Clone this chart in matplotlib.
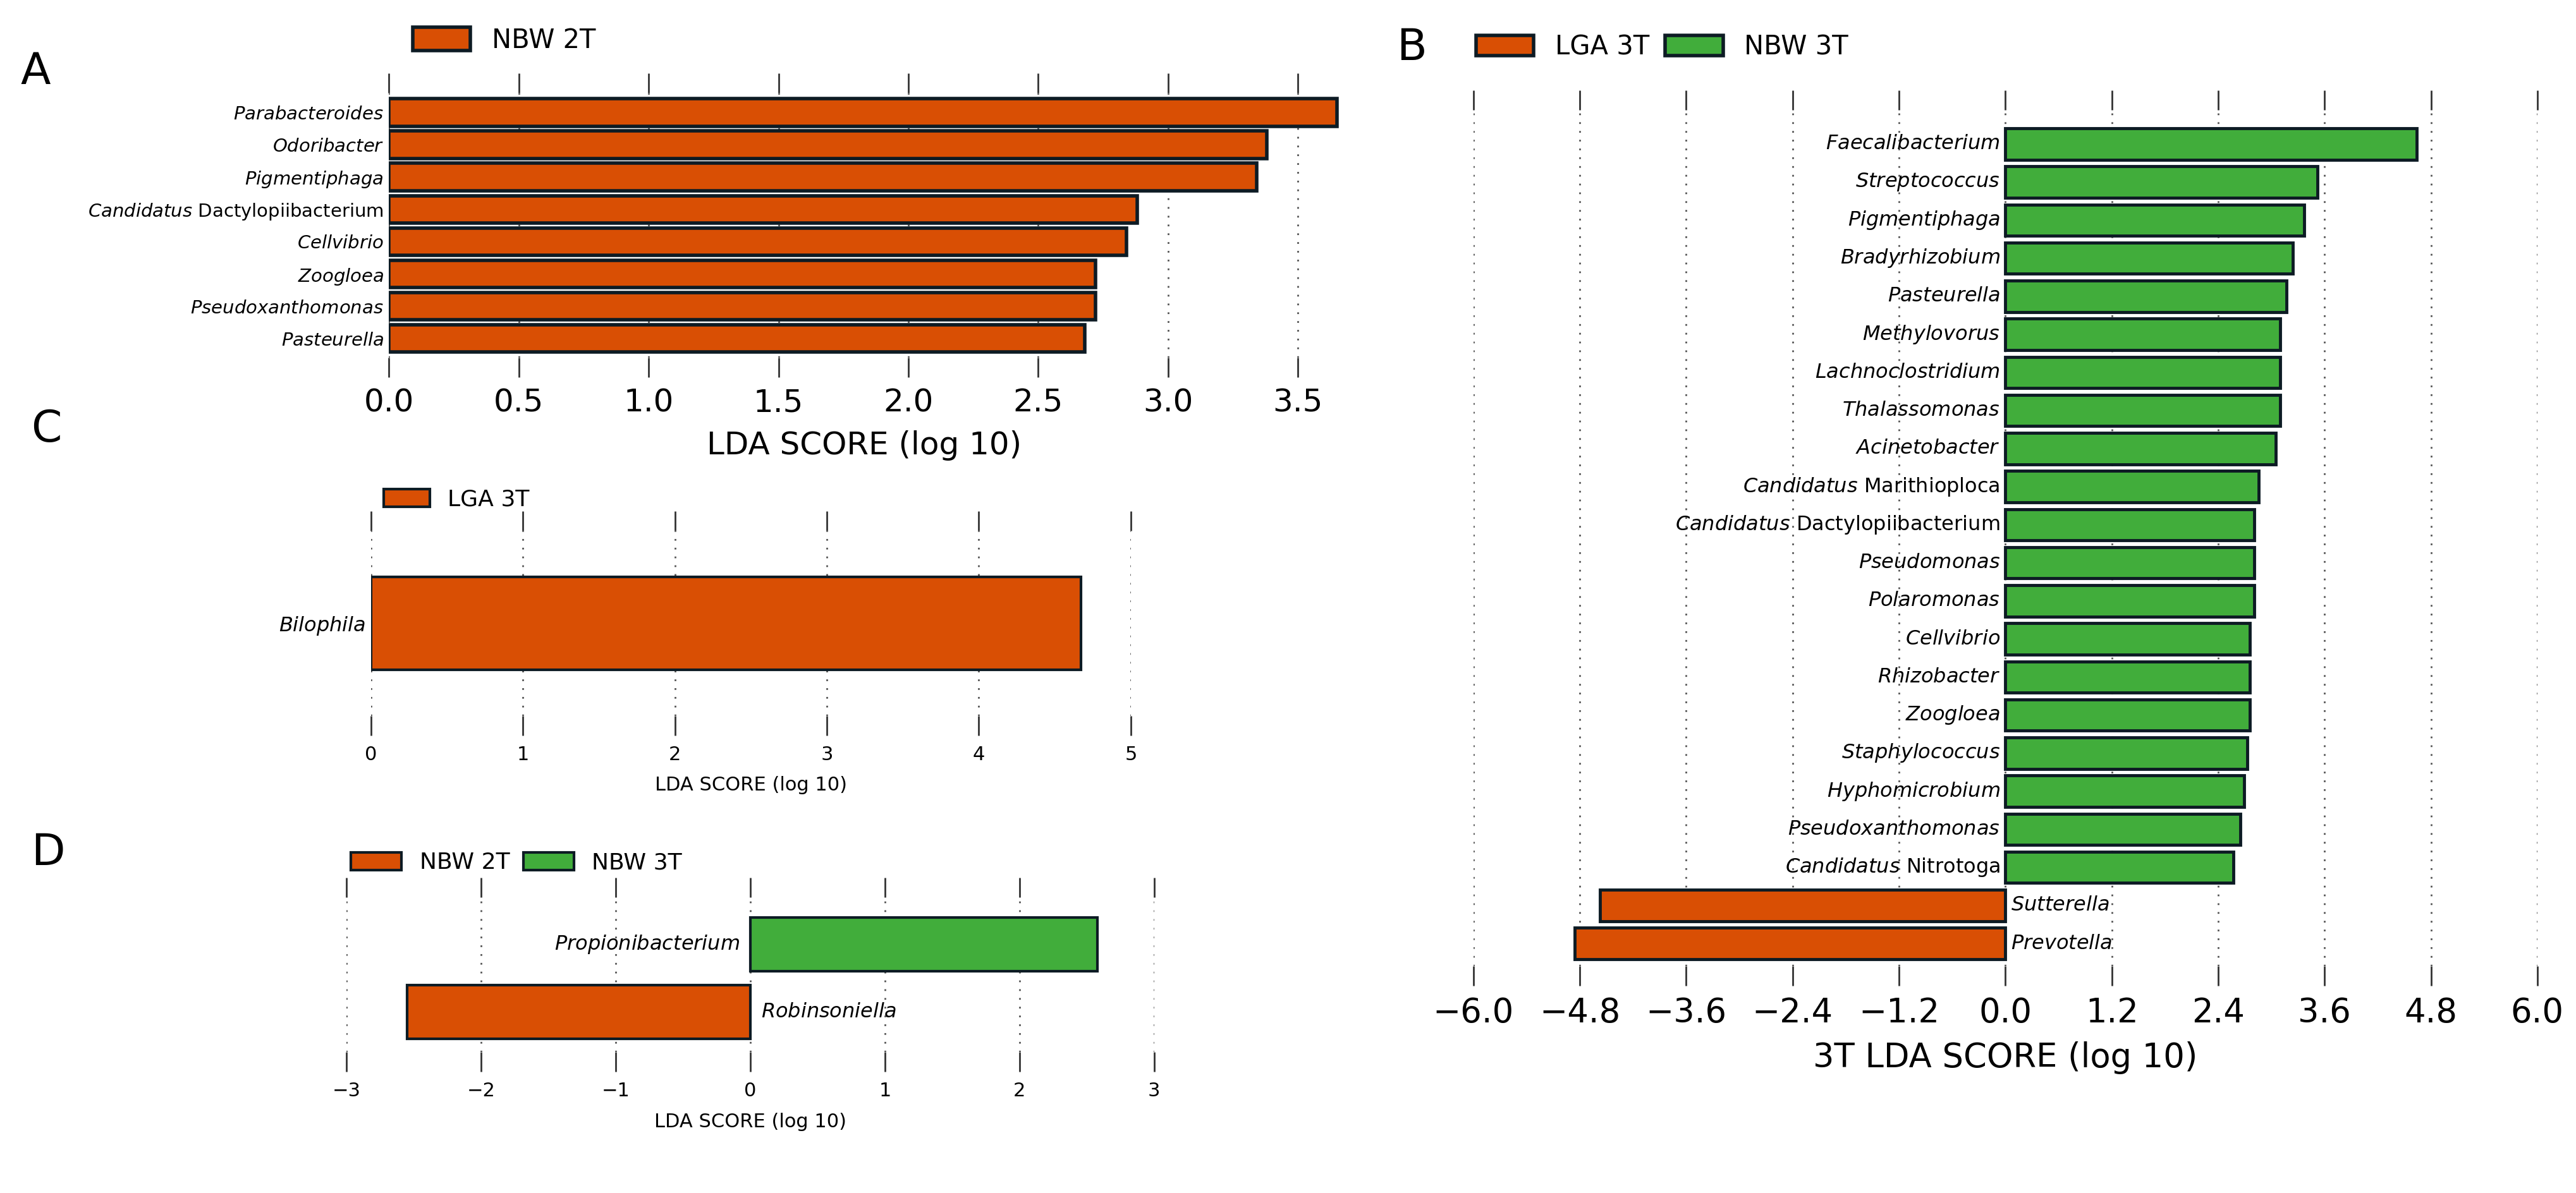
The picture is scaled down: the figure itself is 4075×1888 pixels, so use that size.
import numpy as np
import matplotlib.pyplot as plt
from matplotlib.patches import Patch

plt.rcParams['font.family'] = ['DejaVu Sans']
plt.rcParams['mathtext.fontset'] = 'custom'
plt.rcParams['mathtext.it'] = 'DejaVu Sans:italic'
plt.rcParams['mathtext.rm'] = 'DejaVu Sans'

ORANGE = '#d94f04'
GREEN = '#41ad3b'
EDGE = '#0d1b24'

# panel A
a_names = ['Parabacteroides', 'Odoribacter', 'Pigmentiphaga', r'$\it{Candidatus}$ Dactylopiibacterium',
           'Cellvibrio', 'Zoogloea', 'Pseudoxanthomonas', 'Pasteurella']
a_vals = [3.65, 3.38, 3.34, 2.88, 2.84, 2.72, 2.72, 2.68]

# panel B
b_names = ['Faecalibacterium', 'Streptococcus', 'Pigmentiphaga', 'Bradyrhizobium', 'Pasteurella',
           'Methylovorus', 'Lachnoclostridium', 'Thalassomonas', 'Acinetobacter',
           r'$\it{Candidatus}$ Marithioploca', r'$\it{Candidatus}$ Dactylopiibacterium',
           'Pseudomonas', 'Polaromonas', 'Cellvibrio', 'Rhizobacter', 'Zoogloea',
           'Staphylococcus', 'Hyphomicrobium', 'Pseudoxanthomonas', r'$\it{Candidatus}$ Nitrotoga',
           'Sutterella', 'Prevotella']
b_vals = [4.64, 3.52, 3.37, 3.24, 3.17, 3.10, 3.10, 3.10, 3.05, 2.86, 2.81, 2.81, 2.81,
          2.76, 2.76, 2.76, 2.73, 2.69, 2.65, 2.57, -4.57, -4.86]

# panel C
c_names = ['Bilophila']
c_vals = [4.67]

# panel D
d_names = ['Propionibacterium', 'Robinsoniella']
d_vals = [2.58, -2.55]

fig = plt.figure(figsize=(40.75, 18.88), dpi=100)


def style(ax, xlim, ticks, tickfs, labfs, xlabel):
    ax.set_xlim(*xlim)
    ax.set_xticks(ticks)
    for t in ticks:
        ax.axvline(t, color='#555555', ls=(0, (1, 4)), lw=2, zorder=0)
    for s in ax.spines.values():
        s.set_visible(False)
    ax.tick_params(axis='x', top=True, bottom=True, length=22, width=2, color='#333333',
                   labelsize=tickfs, direction='out', pad=12)
    ax.tick_params(axis='y', length=0, pad=6)
    ax.set_xlabel(xlabel, fontsize=labfs, labelpad=14)


def names_italic(n):
    return n if n.startswith('$') else r'$\it{' + n + '}$'


# A
axA = fig.add_axes([0.151, 0.70, 0.369, 0.222])
y = np.arange(len(a_vals))[::-1]
axA.barh(y, a_vals, height=0.85, color=ORANGE, edgecolor=EDGE, lw=4)
axA.set_yticks(y)
axA.set_yticklabels([names_italic(n) for n in a_names], fontsize=21)
axA.set_ylim(-0.6, len(a_vals) - 0.4)
style(axA, (0, 3.66), np.arange(0, 3.6, 0.5), 36, 36, 'LDA SCORE (log 10)')
axA.legend(handles=[Patch(facecolor=ORANGE, edgecolor=EDGE, lw=4, label='NBW 2T')],
           loc='lower left', bbox_to_anchor=(0.0, 1.06), frameon=False, fontsize=30,
           handlelength=2.2, handleheight=1.0)

# C
axC = fig.add_axes([0.144, 0.40, 0.295, 0.155])
axC.barh([0], c_vals, height=0.5, color=ORANGE, edgecolor=EDGE, lw=3)
axC.set_yticks([0])
axC.set_yticklabels([names_italic(n) for n in c_names], fontsize=23)
axC.set_ylim(-0.5, 0.5)
style(axC, (0, 5.0), np.arange(0, 6, 1), 22, 22, 'LDA SCORE (log 10)')
axC.legend(handles=[Patch(facecolor=ORANGE, edgecolor=EDGE, lw=3, label='LGA 3T')],
           loc='lower left', bbox_to_anchor=(-0.01, 1.0), frameon=False, fontsize=26,
           handlelength=2.0, handleheight=0.8)

# D
axD = fig.add_axes([0.1346, 0.118, 0.3134, 0.13])
yd = np.arange(len(d_vals))[::-1]
colsD = [GREEN if v > 0 else ORANGE for v in d_vals]
axD.barh(yd, d_vals, height=0.8, color=colsD, edgecolor=EDGE, lw=3)
axD.set_yticks([])
for yy, v, n in zip(yd, d_vals, d_names):
    if v > 0:
        axD.text(-0.08, yy, names_italic(n), ha='right', va='center', fontsize=23)
    else:
        axD.text(0.08, yy, names_italic(n), ha='left', va='center', fontsize=23)
axD.set_ylim(-0.6, 1.7)
style(axD, (-3, 3), np.arange(-3, 4, 1), 22, 22, 'LDA SCORE (log 10)')
axD.legend(handles=[Patch(facecolor=ORANGE, edgecolor=EDGE, lw=3, label='NBW 2T'),
                    Patch(facecolor=GREEN, edgecolor=EDGE, lw=3, label='NBW 3T')],
           loc='lower left', bbox_to_anchor=(-0.02, 1.02), frameon=False, fontsize=26, ncol=2,
           handlelength=2.2, handleheight=0.8, columnspacing=0.6)

# B
axB = fig.add_axes([0.572, 0.19, 0.413, 0.718])
yb = np.arange(len(b_vals))[::-1]
colsB = [GREEN if v > 0 else ORANGE for v in b_vals]
axB.barh(yb, b_vals, height=0.82, color=colsB, edgecolor=EDGE, lw=3.5)
axB.set_yticks([])
for yy, v, n in zip(yb, b_vals, b_names):
    if v > 0:
        axB.text(-0.06, yy, names_italic(n), ha='right', va='center', fontsize=23)
    else:
        axB.text(0.06, yy, names_italic(n), ha='left', va='center', fontsize=23)
axB.set_ylim(-0.6, len(b_vals) - 0.1)
style(axB, (-6, 6), np.round(np.arange(-6, 6.1, 1.2), 1), 38, 38, '3T LDA SCORE (log 10)')
axB.legend(handles=[Patch(facecolor=ORANGE, edgecolor=EDGE, lw=4, label='LGA 3T'),
                    Patch(facecolor=GREEN, edgecolor=EDGE, lw=4, label='NBW 3T')],
           loc='lower left', bbox_to_anchor=(-0.02, 1.03), frameon=False, fontsize=30, ncol=2,
           handlelength=2.2, handleheight=0.8, columnspacing=0.6)

for lab, x, yy in [('A', 0.008, 0.94), ('B', 0.542, 0.96), ('C', 0.012, 0.64), ('D', 0.012, 0.285)]:
    fig.text(x, yy, lab, fontsize=50, ha='left', va='center')

fig.savefig('out.png', dpi=100)
